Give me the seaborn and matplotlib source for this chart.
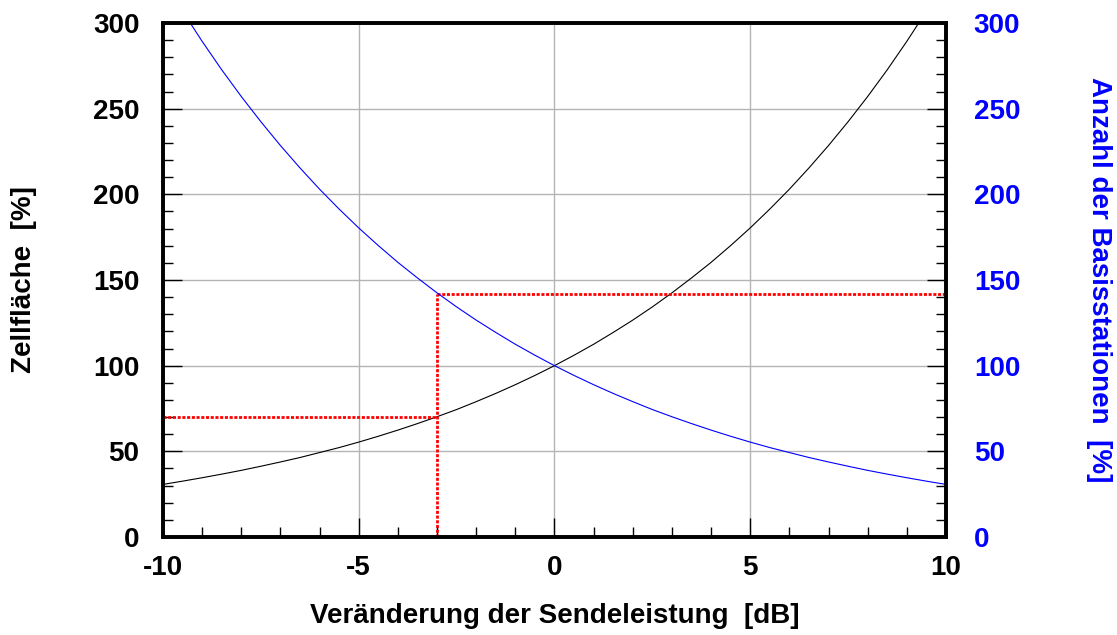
import numpy as np
import pandas as pd
import matplotlib
matplotlib.use("Agg")
import matplotlib.pyplot as plt
from matplotlib.ticker import MultipleLocator
import seaborn as sns

# ── data (every 0.5 dB) ──────────────────────────────────────────────────────
db = [-10, -9.5, -9, -8.5, -8, -7.5, -7, -6.5, -6, -5.5, -5,
      -4.5, -4, -3.5, -3, -2.5, -2, -1.5, -1, -0.5, 0,
      0.5, 1, 1.5, 2, 2.5, 3, 3.5, 4, 4.5, 5,
      5.5, 6, 6.5, 7, 7.5, 8, 8.5, 9, 9.5, 10]
zellflaeche = [30.7, 32.6, 34.6, 36.7, 38.9, 41.3, 43.8, 46.4, 49.3, 52.2, 55.4,
               58.8, 62.4, 66.2, 70.2, 74.4, 79.0, 83.8, 88.9, 94.3, 100.0,
               106.1, 112.5, 119.4, 126.6, 134.3, 142.5, 151.2, 160.3, 170.1, 180.4,
               191.4, 203.0, 215.4, 228.5, 242.4, 257.1, 272.7, 289.3, 306.9, 325.5]
basisstationen = [325.5, 306.9, 289.3, 272.7, 257.1, 242.4, 228.5, 215.4, 203.0, 191.4, 180.4,
                  170.1, 160.3, 151.2, 142.5, 134.3, 126.6, 119.4, 112.5, 106.1, 100.0,
                  94.3, 88.9, 83.8, 79.0, 74.4, 70.2, 66.2, 62.4, 58.8, 55.4,
                  52.2, 49.3, 46.4, 43.8, 41.3, 38.9, 36.7, 34.6, 32.6, 30.7]

# red helper lines (-3 dB example)
mark_db = -3
mark_area = 70
mark_bs = 142

df = pd.DataFrame({"db": db, "area": zellflaeche, "bs": basisstationen})

sns.set_theme(style="white")
plt.rcParams["font.family"] = ["Liberation Sans", "DejaVu Sans"]
plt.rcParams["font.weight"] = "bold"
plt.rcParams["axes.unicode_minus"] = False
plt.rcParams["text.color"] = "black"
plt.rcParams["axes.labelcolor"] = "black"
plt.rcParams["xtick.color"] = "black"
plt.rcParams["ytick.color"] = "black"

BLUE = "#0000FF"
RED = "#FF0000"
GRID = "#b4b4b4"
FS = 20

fig = plt.figure(figsize=(11.17, 6.35), dpi=100)
ax = fig.add_axes([0.1459, 0.1543, 0.8469 - 0.1459, 0.9638 - 0.1543])
ax2 = ax.twinx()

sns.lineplot(data=df, x="db", y="area", ax=ax, color="black", lw=0.8)
sns.lineplot(data=df, x="db", y="bs", ax=ax2, color=BLUE, lw=0.8)

dot = (0, (1.1, 0.6))
ax.plot([-10, mark_db], [mark_area, mark_area], color=RED, lw=2, ls=dot, zorder=5)
ax.plot([mark_db, mark_db], [0, mark_bs], color=RED, lw=2, ls=dot, zorder=5)
ax.plot([mark_db, 10], [mark_bs, mark_bs], color=RED, lw=2, ls=dot, zorder=5)

for a in (ax, ax2):
    a.set_xlim(-10, 10)
    a.set_ylim(0, 300)
    a.yaxis.set_major_locator(MultipleLocator(50))
    a.yaxis.set_minor_locator(MultipleLocator(10))
    for s in a.spines.values():
        s.set_linewidth(2.6)
        s.set_color("black")

ax.xaxis.set_major_locator(MultipleLocator(5))
ax.xaxis.set_minor_locator(MultipleLocator(1))
ax.grid(True, which="major", color=GRID, lw=1)
ax.set_axisbelow(True)

ax.tick_params(axis="both", which="major", direction="in", length=14, width=1,
               labelsize=FS, labelcolor="black", color="black", pad=13)
ax.tick_params(axis="both", which="minor", direction="in", length=7, width=1,
               color="black")
ax.tick_params(axis="y", which="both", left=True, right=False)
ax.tick_params(axis="x", which="both", bottom=True, top=False)
ax.tick_params(axis="y", which="major", pad=17)

ax2.tick_params(axis="y", which="major", direction="in", length=14, width=1,
                labelsize=FS, labelcolor=BLUE, color="black", pad=20)
ax2.tick_params(axis="y", which="minor", direction="in", length=7, width=1,
                color="black")

for lab in ax.get_xticklabels() + ax.get_yticklabels() + ax2.get_yticklabels():
    lab.set_fontweight("bold")

ax.set_xlabel("Veränderung der Sendeleistung  [dB]", fontsize=FS,
              fontweight="bold", color="black", labelpad=16)
ax.set_ylabel("Zellfläche  [%]", fontsize=FS, fontweight="bold", color="black",
              labelpad=40)
ax2.set_ylabel("Anzahl der Basisstationen  [%]", fontsize=FS, fontweight="bold",
               color=BLUE, rotation=270, labelpad=66)

fig.savefig("out.png", dpi=100)
